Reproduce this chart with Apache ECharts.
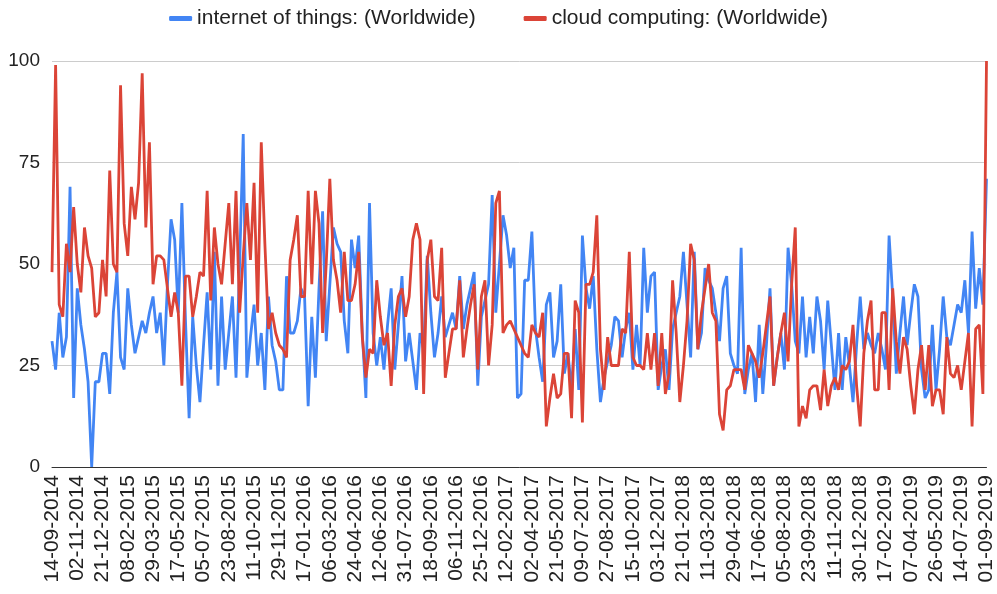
<!DOCTYPE html>
<html>
<head>
<meta charset="utf-8">
<script src="https://cdn.jsdelivr.net/npm/echarts@6/dist/echarts.min.js"></script>
<style>
  html, body { margin: 0; padding: 0; background: #fff; }
  #chart { width: 997px; height: 594px; }
</style>
</head>
<body>
<div id="chart"></div>
<script>
// weekly Google Trends style data, 14-09-2014 .. 01-09-2019
const startDate = "2014-09-14";
const weekCount = 260;

const iotValues = [
  31, 24, 38, 27, 32, 69, 17, 44, 35, 29, 21, 0, 21, 21, 28, 28, 18, 38, 48, 27,
  24, 44, 35, 28, 32, 36, 33, 38, 42, 33, 38, 25, 45, 61, 56, 38, 65, 36, 12, 37,
  25, 16, 30, 43, 24, 53, 20, 42, 24, 33, 42, 22, 50, 82, 22, 32, 40, 25, 33, 19,
  42, 30, 26, 19, 19, 47, 33, 33, 36, 44, 42, 15, 37, 22, 44, 63, 31, 45, 59, 55,
  53, 36, 28, 56, 49, 57, 33, 17, 65, 33, 25, 32, 24, 35, 44, 24, 35, 47, 26, 33,
  26, 19, 33, 29, 52, 38, 27, 33, 42, 32, 35, 38, 34, 47, 34, 40, 44, 48, 20, 37,
  41, 45, 67, 38, 50, 62, 57, 49, 54, 17, 18, 46, 46, 58, 34, 27, 21, 40, 43, 27,
  31, 45, 23, 28, 19, 34, 19, 57, 44, 39, 47, 29, 16, 22, 26, 30, 37, 36, 27, 34,
  38, 24, 35, 25, 54, 38, 47, 48, 19, 25, 29, 19, 34, 38, 42, 53, 40, 27, 53, 29,
  33, 49, 46, 44, 38, 31, 44, 47, 28, 25, 23, 54, 18, 24, 28, 16, 35, 18, 30, 44,
  20, 27, 33, 24, 54, 45, 31, 28, 42, 27, 37, 28, 42, 36, 24, 41, 30, 19, 33, 19,
  32, 25, 16, 30, 42, 29, 33, 30, 28, 33, 29, 24, 57, 42, 23, 33, 42, 30, 38, 45,
  42, 24, 17, 19, 35, 19, 29, 42, 32, 30, 35, 40, 38, 46, 33, 58, 39, 49, 40, 71
];

const cloudValues = [
  48, 99, 40, 37, 55, 48, 64, 50, 43, 59, 52, 49, 37, 38, 51, 42, 73, 50, 48, 94,
  60, 52, 69, 61, 70, 97, 59, 80, 45, 52, 52, 51, 44, 37, 43, 38, 20, 47, 47, 37,
  42, 48, 47, 68, 41, 59, 50, 45, 55, 65, 45, 68, 38, 52, 65, 51, 70, 38, 80, 55,
  34, 38, 33, 30, 29, 27, 51, 56, 62, 42, 42, 68, 45, 68, 60, 33, 50, 71, 51, 46,
  38, 53, 41, 41, 45, 53, 32, 22, 29, 28, 46, 37, 30, 33, 20, 35, 42, 44, 37, 42,
  56, 60, 56, 18, 51, 56, 42, 41, 54, 22, 28, 34, 34, 46, 27, 34, 40, 45, 24, 42,
  46, 25, 35, 65, 68, 33, 35, 36, 34, 32, 30, 28, 27, 35, 33, 32, 38, 10, 17, 23,
  17, 18, 28, 28, 12, 41, 38, 11, 45, 45, 48, 62, 29, 19, 32, 25, 25, 25, 34, 33,
  53, 27, 25, 25, 24, 33, 24, 33, 20, 33, 18, 23, 46, 33, 16, 25, 36, 55, 51, 29,
  38, 44, 50, 38, 36, 13, 9, 19, 20, 24, 24, 24, 19, 30, 28, 26, 22, 28, 35, 42,
  20, 27, 33, 38, 26, 45, 59, 10, 15, 12, 19, 20, 20, 14, 24, 15, 20, 22, 19, 25,
  24, 26, 35, 20, 10, 28, 36, 41, 19, 19, 38, 38, 19, 44, 31, 23, 32, 29, 20, 13,
  24, 30, 19, 30, 15, 19, 19, 13, 32, 23, 22, 25, 19, 26, 33, 10, 34, 35, 18, 100
];

const yTicks = [0, 25, 50, 75, 100];

function pad(n) {
  return n < 10 ? "0" + n : String(n);
}

const weeks = [];
{
  const d = new Date(startDate + "T12:00:00Z");
  for (let i = 0; i < weekCount; i++) {
    weeks.push(`${pad(d.getUTCDate())}-${pad(d.getUTCMonth() + 1)}-${d.getUTCFullYear()}`);
    d.setUTCDate(d.getUTCDate() + 7);
  }
}

const FONT = "'Liberation Sans', Arial, sans-serif";
const BLUE = "#4285f4";
const RED = "#db4437";

const chart = echarts.init(document.getElementById("chart"), null, { renderer: "canvas" });

chart.setOption({
  animation: false,
  backgroundColor: "#fff",
  legend: {
    top: 3,
    left: "center",
    itemWidth: 23,
    itemHeight: 5,
    itemGap: 48,
    icon: "roundRect",
    textStyle: { fontFamily: FONT, fontSize: 21, color: "#222" },
    data: ["internet of things: (Worldwide)", "cloud computing: (Worldwide)"],
  },
  grid: { left: 52, right: 2, top: 61, bottom: 127 },
  xAxis: {
    type: "category",
    data: weeks,
    boundaryGap: false,
    axisLine: { lineStyle: { color: "#333", width: 1 } },
    axisTick: { show: false },
    axisLabel: {
      interval: 6,
      rotate: 90,
      margin: 8,
      fontFamily: FONT,
      fontSize: 21,
      color: "#222",
    },
    splitLine: { show: false },
  },
  yAxis: {
    type: "value",
    min: 0,
    max: 100,
    interval: 25,
    axisLine: { show: false },
    axisTick: { show: false },
    axisLabel: {
      fontFamily: FONT,
      fontSize: 19,
      color: "#222",
      margin: 12,
      customValues: yTicks,
    },
    splitLine: { lineStyle: { color: "#cccccc", width: 1 } },
  },
  series: [
    {
      name: "internet of things: (Worldwide)",
      type: "line",
      data: iotValues,
      showSymbol: false,
      color: BLUE,
      lineStyle: { width: 2.8, color: BLUE },
    },
    {
      name: "cloud computing: (Worldwide)",
      type: "line",
      data: cloudValues,
      showSymbol: false,
      color: RED,
      lineStyle: { width: 2.8, color: RED },
    },
  ],
});
</script>
</body>
</html>
